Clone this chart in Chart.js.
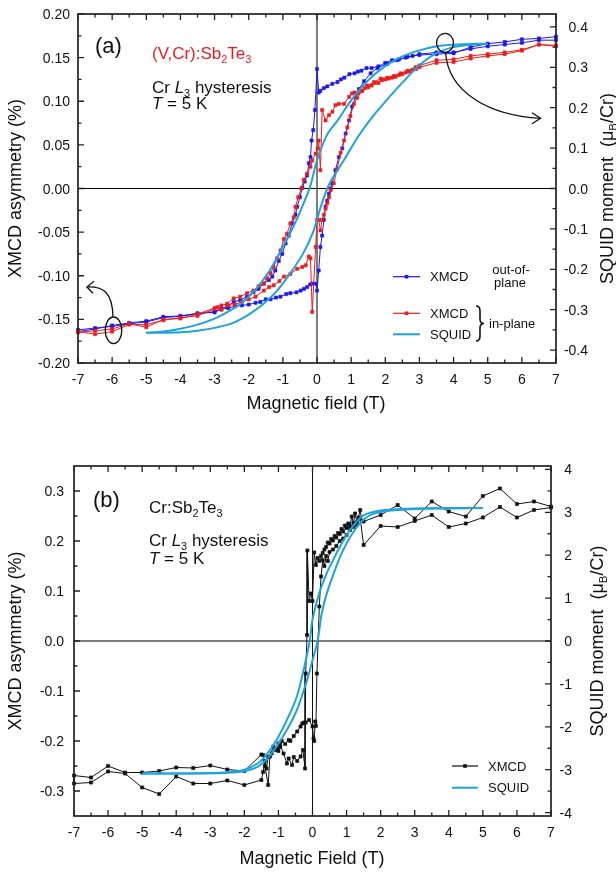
<!DOCTYPE html>
<html>
<head>
<meta charset="utf-8">
<title>Cr L3 XMCD hysteresis</title>
<script src="https://cdn.jsdelivr.net/npm/chart.js@4.4.0/dist/chart.umd.min.js"></script>
<style>
  html, body { margin: 0; padding: 0; background: #fff; }
  .panel { position: absolute; left: 0; width: 616px; height: 437px; }
  #panelA { top: 0; }
  #panelB { top: 437px; }
</style>
</head>
<body>
<div class="panel" id="panelA"><canvas id="chartA" width="616" height="437"></canvas></div>
<div class="panel" id="panelB"><canvas id="chartB" width="616" height="437"></canvas></div>
<script>
// ---- tick labels ----
const fieldTicks = [-7, -6, -5, -4, -3, -2, -1, 0, 1, 2, 3, 4, 5, 6, 7];
const asymTicksA = [-0.20, -0.15, -0.10, -0.05, 0.00, 0.05, 0.10, 0.15, 0.20];
const momentTicksA = [-0.4, -0.3, -0.2, -0.1, 0.0, 0.1, 0.2, 0.3, 0.4];
const asymTicksB = [-0.3, -0.2, -0.1, 0.0, 0.1, 0.2, 0.3];
const momentTicksB = [-4, -3, -2, -1, 0, 1, 2, 3, 4];

// ---- (a) (V,Cr):Sb2Te3, XMCD out-of-plane (field sweep down, then up) ----
const fieldOop = [7, 6.5, 6, 5.5, 5, 4.5, 4, 3.5, 3,
  2.8, 2.6, 2.4, 2.2, 2.0, 1.8, 1.6, 1.45, 1.3, 1.2, 1.1, 0.95, 0.8, 0.7, 0.6, 0.45, 0.3, 0.2, 0.1, 0.05,
  0.0,
  -0.06, -0.11, -0.16, -0.19, -0.24, -0.29, -0.36, -0.43, -0.5, -0.58,
  -0.63, -0.73, -0.83, -0.92, -1.02, -1.12, -1.22, -1.31, -1.41, -1.56,
  -1.71, -1.86, -2.05, -2.25, -2.44, -2.63, -2.8, -3,
  -3.5, -4, -4.5, -5, -5.5, -6, -6.5, -7,
  -7, -6.5, -6, -5.5, -5, -4.5, -4, -3.5, -3,
  -2.8, -2.6, -2.4, -2.2, -2.0, -1.8, -1.66, -1.5, -1.36, -1.2,
  -1.07, -0.9, -0.78, -0.6, -0.48, -0.38, -0.29, -0.2, -0.14, -0.04,
  0.0,
  0.05, 0.1, 0.15, 0.2, 0.25, 0.3, 0.35, 0.4, 0.44,
  0.54, 0.64, 0.74, 0.84, 0.94, 1.03, 1.13, 1.23, 1.38, 1.57,
  1.77, 2.06, 2.35, 2.65, 3.0, 3.5, 4, 4.5, 5, 5.5,
  6, 6.5, 7];
const xmcdOop = [0.170, 0.170, 0.167, 0.165, 0.163, 0.160, 0.156, 0.156, 0.154,
  0.152, 0.150, 0.148, 0.147, 0.144, 0.140, 0.138, 0.138, 0.135, 0.134, 0.132, 0.131, 0.127, 0.125, 0.122, 0.120, 0.117, 0.115, 0.112, 0.110,
  0.137,
  0.090, 0.067, 0.055, 0.036, 0.029, 0.015, 0.008, 0.001, -0.010, -0.021,
  -0.030, -0.040, -0.054, -0.063, -0.075, -0.083, -0.094, -0.101, -0.105, -0.109,
  -0.115, -0.119, -0.124, -0.128, -0.130, -0.135, -0.138, -0.141,
  -0.1435, -0.1465, -0.148, -0.153, -0.155, -0.158, -0.160, -0.162,
  -0.164, -0.161, -0.157, -0.154, -0.152, -0.147, -0.146, -0.143, -0.142,
  -0.138, -0.137, -0.135, -0.134, -0.133, -0.131, -0.130, -0.127, -0.127, -0.125,
  -0.124, -0.121, -0.120, -0.119, -0.117, -0.115, -0.113, -0.110, -0.109, -0.109,
  -0.117,
  -0.094, -0.067, -0.054, -0.036, -0.021, -0.014, -0.006, 0.000, 0.006,
  0.021, 0.036, 0.046, 0.063, 0.078, 0.094, 0.105, 0.114, 0.123, 0.132,
  0.138, 0.143, 0.147, 0.151, 0.153, 0.154, 0.155, 0.162, 0.166, 0.168,
  0.171, 0.172, 0.174];

// ---- (a) XMCD in-plane ----
const fieldIp = [7, 6.5, 6, 5.5, 5, 4.5, 4, 3.5, 3,
  2.9, 2.8, 2.7, 2.6, 2.5, 2.4, 2.3, 2.2, 2.1, 2.0,
  1.9, 1.8, 1.7, 1.6, 1.5, 1.4, 1.3, 1.2, 1.1, 1.03,
  0.94, 0.79, 0.64, 0.54, 0.45, 0.35, 0.25, 0.15, 0.1, 0.05,
  0.02, -0.04, -0.14, -0.19, -0.29, -0.39, -0.46, -0.55, -0.63, -0.68,
  -0.78, -0.88, -0.97, -1.07, -1.17, -1.27, -1.36, -1.46, -1.56, -1.71,
  -1.86, -2.05, -2.25, -2.44, -2.63, -2.8, -2.92,
  -3, -3.5, -4, -4.5, -5, -5.5, -6, -6.5, -7,
  -7, -6.5, -6, -5.5, -5, -4.5, -4, -3.5, -3,
  -2.8, -2.6, -2.4, -2.2, -2.0, -1.8, -1.56, -1.4, -1.27, -1.1,
  -0.97, -0.78, -0.58, -0.43, -0.33, -0.24, -0.19, -0.14, -0.04, 0.0,
  0.05, 0.1, 0.15, 0.2, 0.25, 0.3, 0.35, 0.4, 0.49, 0.59,
  0.69, 0.79, 0.89, 0.98, 1.08, 1.18, 1.33, 1.47, 1.67, 1.87,
  2.06, 2.25, 2.45, 2.65, 2.89, 3.0, 3.5, 4, 4.5, 5,
  5.5, 6, 6.5, 7];
const xmcdIp = [0.163, 0.165, 0.158, 0.154, 0.152, 0.149, 0.145, 0.144, 0.139,
  0.137, 0.136, 0.134, 0.133, 0.131, 0.130, 0.128, 0.127, 0.126, 0.125,
  0.124, 0.121, 0.121, 0.118, 0.116, 0.115, 0.112, 0.109, 0.110, 0.109,
  0.105, 0.097, 0.097, 0.0955, 0.088, 0.084, 0.078, 0.090, 0.021, 0.055,
  0.046, 0.040, 0.032, 0.025, 0.017, 0.010, 0.000, -0.010, -0.021, -0.033,
  -0.040, -0.052, -0.058, -0.071, -0.080, -0.090, -0.097, -0.103, -0.109, -0.112,
  -0.117, -0.120, -0.124, -0.126, -0.132, -0.134, -0.136,
  -0.138, -0.146, -0.148, -0.151, -0.156, -0.156, -0.164, -0.167, -0.164,
  -0.165, -0.163, -0.161, -0.155, -0.159, -0.150, -0.149, -0.144, -0.137,
  -0.139, -0.134, -0.133, -0.130, -0.127, -0.124, -0.117, -0.113, -0.111, -0.106,
  -0.101, -0.098, -0.092, -0.090, -0.088, -0.078, -0.080, -0.1415, -0.067, -0.036,
  -0.036, -0.048, -0.036, -0.030, -0.023, -0.017, -0.010, -0.002, 0.006, 0.022,
  0.041, 0.055, 0.070, 0.083, 0.097, 0.104, 0.112, 0.118, 0.122, 0.126,
  0.127, 0.129, 0.132, 0.135, 0.139, 0.141, 0.147, 0.148, 0.152, 0.154,
  0.156, 0.159, 0.165, 0.164];

// ---- (a) SQUID in-plane, muB/Cr ----
const squidDownFieldA = [5, 4.5, 4, 3.5, 3, 2.5, 2, 1.5, 1.0, 0.6, 0.3, 0.0, -0.2, -0.4, -0.6, -1.0, -1.4, -1.8, -2.2, -2.6, -3, -3.5, -4, -4.5, -5];
const squidDownA = [0.358, 0.358, 0.356, 0.352, 0.342, 0.327, 0.303, 0.268, 0.218, 0.168, 0.134, 0.070, 0.005, -0.038, -0.078, -0.145, -0.205, -0.250, -0.283, -0.305, -0.322, -0.337, -0.347, -0.354, -0.357];
const squidUpFieldA = [-5, -4.5, -4, -3.5, -3, -2.5, -2, -1.6, -1.2, -0.8, -0.4, -0.1, 0.1, 0.3, 0.5, 0.8, 1.2, 1.6, 2, 2.5, 3, 3.5, 4, 4.5, 5];
const squidUpA = [-0.357, -0.357, -0.356, -0.352, -0.345, -0.334, -0.312, -0.288, -0.256, -0.212, -0.160, -0.105, -0.048, 0.0, 0.032, 0.072, 0.128, 0.175, 0.215, 0.262, 0.305, 0.335, 0.350, 0.356, 0.358];

// ---- (b) Cr:Sb2Te3, XMCD ----
const fieldCr = [7, 6.5, 6, 5.5, 5, 4.5, 4, 3.5, 3, 2.5, 2,
  1.5, 1.45, 1.4, 1.35, 1.3, 1.25, 1.2, 1.15, 1.1, 1.05,
  1.0, 0.95, 0.9, 0.85, 0.8, 0.75, 0.7, 0.65, 0.6, 0.55,
  0.5, 0.45, 0.4, 0.35, 0.3, 0.25, 0.2, 0.15, 0.1, 0.05,
  0.0, -0.05, -0.1, -0.15, -0.16, -0.2, -0.22, -0.28, -0.35, -0.45,
  -0.55, -0.6, -0.7, -0.75, -0.85, -0.95, -1.0, -1.05, -1.15, -1.25,
  -1.3, -1.4, -1.45, -1.5, -2, -2.5, -3, -3.5, -4, -4.5,
  -5, -5.5, -6, -6.5, -7,
  -7, -6.5, -6, -5.5, -5, -4.5, -4, -3.5, -3, -2.5, -2,
  -1.5, -1.45, -1.4, -1.35, -1.3, -1.2, -1.1, -1.0, -0.95, -0.9,
  -0.8, -0.7, -0.65, -0.55, -0.45, -0.35, -0.3, -0.25, -0.2, -0.1,
  0.0, 0.03, 0.05, 0.08, 0.1, 0.13, 0.2, 0.25, 0.3, 0.35,
  0.4, 0.45, 0.5, 0.6, 0.7, 0.8, 0.9, 1.0, 1.1, 1.2,
  1.3, 1.4, 1.5, 2, 2.5, 3, 3.5, 4, 4.5, 5,
  5.5, 6, 6.5, 7];
const xmcdCr = [0.269, 0.279, 0.274, 0.305, 0.290, 0.249, 0.259, 0.279, 0.245, 0.272, 0.252,
  0.239, 0.240, 0.262, 0.247, 0.238, 0.255, 0.236, 0.249, 0.229, 0.235,
  0.226, 0.231, 0.219, 0.224, 0.214, 0.216, 0.207, 0.210, 0.201, 0.204,
  0.195, 0.197, 0.188, 0.183, 0.176, 0.170, 0.160, 0.166, 0.152, 0.177,
  0.080, 0.095, 0.080, 0.181, 0.012, -0.065, -0.255, -0.218, -0.231, -0.240,
  -0.232, -0.248, -0.235, -0.245, -0.225, -0.208, -0.220, -0.215, -0.211, -0.231,
  -0.288, -0.250, -0.228, -0.227, -0.260, -0.257, -0.249, -0.254, -0.253, -0.260,
  -0.263, -0.263, -0.250, -0.273, -0.269,
  -0.285, -0.283, -0.261, -0.265, -0.293, -0.306, -0.271, -0.285, -0.285, -0.279, -0.288,
  -0.278, -0.262, -0.240, -0.255, -0.232, -0.225, -0.218, -0.205, -0.212, -0.200,
  -0.206, -0.198, -0.200, -0.190, -0.181, -0.171, -0.165, -0.163, -0.163, -0.158,
  -0.171, -0.195, -0.200, -0.161, -0.170, -0.065, 0.069, 0.129, 0.162, 0.150,
  0.170, 0.160, 0.178, 0.183, 0.190, 0.200, 0.205, 0.212, 0.222, 0.228,
  0.232, 0.245, 0.192, 0.230, 0.228, 0.240, 0.252, 0.228, 0.235, 0.247,
  0.268, 0.247, 0.262, 0.267];

// ---- (b) SQUID, muB/Cr ----
const squidDownFieldB = [5, 4, 3, 2.5, 2, 1.5, 1.25, 1.0, 0.8, 0.6, 0.4, 0.2, 0.0, -0.08, -0.26, -0.46, -0.75, -1.05, -1.35, -1.6, -2, -2.5, -3, -4, -5];
const squidDownB = [3.10, 3.10, 3.09, 3.07, 3.04, 2.93, 2.74, 2.47, 2.19, 1.88, 1.55, 1.12, 0.50, 0.0, -0.67, -1.30, -1.84, -2.30, -2.65, -2.85, -3.0, -3.06, -3.08, -3.09, -3.09];
const squidUpFieldB = [-5, -4, -3, -2.5, -2, -1.6, -1.3, -1.05, -0.75, -0.46, -0.16, 0.0, 0.15, 0.27, 0.42, 0.62, 0.81, 1.01, 1.25, 1.5, 1.8, 2.3, 3, 4, 5];
const squidUpB = [-3.09, -3.09, -3.085, -3.07, -3.04, -2.93, -2.72, -2.45, -2.07, -1.61, -0.91, -0.45, 0.0, 0.64, 1.11, 1.57, 1.96, 2.29, 2.60, 2.83, 2.97, 3.04, 3.08, 3.09, 3.10];

// ---- styling ----
const FONT = '"Liberation Sans", Arial, Helvetica, sans-serif';
const BLUE = '#1a1aee';
const RED = '#ee1c1c';
const CYAN = '#1ea3dc';
const INK = '#111';
const MAJOR = 6, MINOR = 3.5;

Chart.defaults.font.family = FONT;

const pts = (xs, ys) => xs.map((x, i) => ({ x, y: ys[i] }));
const font = (size, italic) => (italic ? 'italic ' : '') + size + 'px ' + FONT;

// text made of runs: plain strings, or [text, flags] with 'i' italic, 's' subscript
function drawRich(ctx, parts, x, y, size, align) {
  const runs = parts.map(p => {
    const t = typeof p === 'string' ? p : p[0];
    const f = typeof p === 'string' ? '' : p[1];
    const sub = f.includes('s');
    const sz = sub ? size * 0.64 : size;
    ctx.font = font(sz, f.includes('i'));
    return { t, sz, it: f.includes('i'), sub, w: ctx.measureText(t).width };
  });
  const total = runs.reduce((s, r) => s + r.w, 0);
  let cx = align === 'center' ? x - total / 2 : align === 'right' ? x - total : x;
  const base = y + size * 0.36;
  ctx.textAlign = 'left';
  ctx.textBaseline = 'alphabetic';
  runs.forEach(r => {
    ctx.font = font(r.sz, r.it);
    ctx.fillText(r.t, cx, base + (r.sub ? size * 0.22 : 0));
    cx += r.w;
  });
}

function vertText(ctx, parts, x, y, size) {
  ctx.save();
  ctx.translate(x, y);
  ctx.rotate(-Math.PI / 2);
  drawRich(ctx, parts, 0, 0, size, 'center');
  ctx.restore();
}

const mids = vals => vals.slice(1).map((v, i) => (v + vals[i]) / 2);

function lineDataset(label, data, color, axis) {
  return {
    label, data, yAxisID: axis, showLine: true,
    borderColor: color, backgroundColor: color, borderWidth: 1,
    pointStyle: 'rect', pointRadius: 2.2, pointBorderWidth: 0.6,
    pointHoverRadius: 2.2, clip: 4
  };
}

function squidDataset(label, data) {
  return {
    label, data, yAxisID: 'y2', showLine: true,
    borderColor: CYAN, borderWidth: 2, pointRadius: 0, tension: 0.3, clip: 4
  };
}

// frame, inward ticks, tick labels and axis titles
function drawFrame(chart, cfg) {
  const { ctx, chartArea: a, scales } = chart;
  const { x, y, y2 } = scales;
  ctx.save();
  ctx.strokeStyle = '#222';
  ctx.lineWidth = 1.7;
  ctx.strokeRect(a.left, a.top, a.right - a.left, a.bottom - a.top);

  ctx.lineWidth = 1.3;
  ctx.beginPath();
  const xTick = (v, len) => {
    const p = x.getPixelForValue(v);
    ctx.moveTo(p, a.bottom); ctx.lineTo(p, a.bottom - len);
    ctx.moveTo(p, a.top); ctx.lineTo(p, a.top + len);
  };
  const yTick = (v, len) => {
    const p = y.getPixelForValue(v);
    ctx.moveTo(a.left, p); ctx.lineTo(a.left + len, p);
  };
  const y2Tick = (v, len) => {
    const p = y2.getPixelForValue(v);
    ctx.moveTo(a.right, p); ctx.lineTo(a.right - len, p);
  };
  cfg.xTicks.forEach(v => xTick(v, MAJOR));
  mids(cfg.xTicks).forEach(v => xTick(v, MINOR));
  cfg.yTicks.forEach(v => yTick(v, MAJOR));
  mids(cfg.yTicks).forEach(v => yTick(v, MINOR));
  cfg.y2Ticks.forEach(v => y2Tick(v, MAJOR));
  mids(cfg.y2Ticks).forEach(v => y2Tick(v, MINOR));
  ctx.stroke();

  ctx.fillStyle = INK;
  cfg.xTicks.forEach(v => drawRich(ctx, [String(v)], x.getPixelForValue(v), cfg.xLabelY, 14, 'center'));
  cfg.yTicks.forEach(v => drawRich(ctx, [cfg.yFmt(v)], cfg.yLabelX, y.getPixelForValue(v), 14, 'right'));
  cfg.y2Ticks.forEach(v => drawRich(ctx, [cfg.y2Fmt(v)], cfg.y2LabelX, y2.getPixelForValue(v), 14, 'right'));

  const midY = (a.top + a.bottom) / 2;
  drawRich(ctx, [cfg.xTitle], cfg.xTitleX, cfg.xTitleY, 18, 'center');
  vertText(ctx, ['XMCD asymmetry (%)'], cfg.yTitleX, midY, 18);
  vertText(ctx, ['SQUID moment  (\u03bc', ['B', 's'], '/Cr)'], cfg.y2TitleX, midY, 18);
  ctx.restore();
}

function framePlugin(cfg) {
  return {
    id: 'frame',
    beforeDatasetsDraw(chart) {
      const { ctx, chartArea: a, scales } = chart;
      const x0 = scales.x.getPixelForValue(0);
      const y0 = scales.y.getPixelForValue(0);
      ctx.save();
      ctx.strokeStyle = '#000';
      ctx.lineWidth = 1;
      ctx.beginPath();
      ctx.moveTo(a.left, y0); ctx.lineTo(a.right, y0);
      ctx.stroke();
      ctx.strokeStyle = cfg.zeroXColor;
      ctx.lineWidth = cfg.zeroXWidth;
      ctx.beginPath();
      ctx.moveTo(x0, a.top); ctx.lineTo(x0, a.bottom);
      ctx.stroke();
      ctx.restore();
    },
    afterDraw(chart) {
      drawFrame(chart, cfg);
      cfg.decorate(chart);
    }
  };
}

function legendLine(ctx, x1, x2, y, color, width, marker) {
  ctx.strokeStyle = color;
  ctx.lineWidth = width;
  ctx.beginPath(); ctx.moveTo(x1, y); ctx.lineTo(x2, y); ctx.stroke();
  if (marker) {
    ctx.fillStyle = color;
    ctx.fillRect((x1 + x2) / 2 - 1.8, y - 1.8, 3.6, 3.6);
  }
}

function decoratePanelA(chart) {
  const { ctx, scales: { x, y } } = chart;
  ctx.save();
  ctx.fillStyle = INK;
  drawRich(ctx, ['(a)'], 95, 45, 22, 'left');
  ctx.fillStyle = RED;
  drawRich(ctx, ['(V,Cr):Sb', ['2', 's'], 'Te', ['3', 's']], 152, 53, 17, 'left');
  ctx.fillStyle = INK;
  drawRich(ctx, ['Cr ', ['L', 'i'], ['3', 's'], ' hysteresis'], 152, 87, 17, 'left');
  drawRich(ctx, [['T', 'i'], ' = 5 K'], 152, 103, 17, 'left');

  // legend
  legendLine(ctx, 393, 420, 276.7, BLUE, 1.2, true);
  legendLine(ctx, 393, 420, 313.3, RED, 1.2, true);
  legendLine(ctx, 393, 420, 334.3, CYAN, 2, false);
  ctx.fillStyle = INK;
  drawRich(ctx, ['XMCD'], 430, 276.7, 13, 'left');
  drawRich(ctx, ['XMCD'], 430, 313.3, 13, 'left');
  drawRich(ctx, ['SQUID'], 430, 334.3, 13, 'left');
  drawRich(ctx, ['out-of-'], 511, 269.5, 13, 'center');
  drawRich(ctx, ['plane'], 510, 282.5, 13, 'center');
  drawRich(ctx, ['in-plane'], 489, 323.5, 13, 'left');
  ctx.strokeStyle = INK;
  ctx.lineWidth = 1.6;
  ctx.beginPath();
  ctx.moveTo(476, 306);
  ctx.quadraticCurveTo(480, 306, 480, 311);
  ctx.lineTo(480, 319);
  ctx.quadraticCurveTo(480, 323.5, 484, 323.5);
  ctx.quadraticCurveTo(480, 323.5, 480, 328);
  ctx.lineTo(480, 336);
  ctx.quadraticCurveTo(480, 341, 476, 341);
  ctx.stroke();

  // ellipses with arrows pointing to the axis each curve belongs to
  ctx.lineWidth = 1.3;
  const ex = x.getPixelForValue(3.75), ey = y.getPixelForValue(0.167);
  ctx.beginPath(); ctx.ellipse(ex, ey, 8.5, 9.5, 0, 0, 2 * Math.PI); ctx.stroke();
  ctx.beginPath();
  ctx.moveTo(ex + 0.5, ey + 9.5);
  ctx.bezierCurveTo(ex + 3, ey + 50, ex + 45, ey + 73, ex + 95.5, ey + 75.5);
  ctx.stroke();
  ctx.beginPath();
  ctx.moveTo(ex + 87, ey + 70); ctx.lineTo(ex + 95.5, ey + 75.5); ctx.lineTo(ex + 87, ey + 81);
  ctx.stroke();

  const lx = x.getPixelForValue(-5.96), ly = y.getPixelForValue(-0.1625);
  ctx.beginPath(); ctx.ellipse(lx, ly, 8.3, 13.3, 0, 0, 2 * Math.PI); ctx.stroke();
  ctx.beginPath();
  ctx.moveTo(lx - 0.5, ly - 13.3);
  ctx.bezierCurveTo(lx - 1, ly - 38, lx - 10, ly - 44, lx - 26.6, ly - 43.3);
  ctx.stroke();
  ctx.beginPath();
  ctx.moveTo(lx - 19.5, ly - 49); ctx.lineTo(lx - 26.6, ly - 43.3); ctx.lineTo(lx - 20.5, ly - 37);
  ctx.stroke();
  ctx.restore();
}

function decoratePanelB(chart) {
  const { ctx } = chart;
  ctx.save();
  ctx.fillStyle = INK;
  drawRich(ctx, ['(b)'], 93, 62, 22, 'left');
  drawRich(ctx, ['Cr:Sb', ['2', 's'], 'Te', ['3', 's']], 149, 70, 17, 'left');
  drawRich(ctx, ['Cr ', ['L', 'i'], ['3', 's'], ' hysteresis'], 149, 103, 17, 'left');
  drawRich(ctx, [['T', 'i'], ' = 5 K'], 149, 121, 17, 'left');

  legendLine(ctx, 452, 478, 329, INK, 1.2, true);
  legendLine(ctx, 452, 478, 350.7, CYAN, 2, false);
  ctx.fillStyle = INK;
  drawRich(ctx, ['XMCD'], 488, 329, 13, 'left');
  drawRich(ctx, ['SQUID'], 488, 350.7, 13, 'left');
  ctx.restore();
}

function baseOptions(padTop, leftW, rightW, bottomH, yMin, yMax, y2Min, y2Max) {
  const hidden = { grid: { display: false }, border: { display: false }, ticks: { display: false } };
  return {
    responsive: false,
    animation: false,
    devicePixelRatio: 1,
    layout: { padding: { top: padTop, left: 0, right: 0, bottom: 0 }, autoPadding: false },
    plugins: { legend: { display: false }, tooltip: { enabled: false } },
    scales: {
      x: { type: 'linear', position: 'bottom', min: -7, max: 7, ...hidden, afterFit: s => { s.height = bottomH; } },
      y: { type: 'linear', position: 'left', min: yMin, max: yMax, ...hidden, afterFit: s => { s.width = leftW; } },
      y2: { type: 'linear', position: 'right', min: y2Min, max: y2Max, ...hidden, afterFit: s => { s.width = rightW; } }
    }
  };
}

// ---- panel (a) ----
new Chart(document.getElementById('chartA'), {
  type: 'scatter',
  data: {
    datasets: [
      squidDataset('SQUID', pts(squidDownFieldA, squidDownA)),
      squidDataset('SQUID up', pts(squidUpFieldA, squidUpA)),
      lineDataset('XMCD in-plane', pts(fieldIp, xmcdIp), RED, 'y'),
      lineDataset('XMCD out-of-plane', pts(fieldOop, xmcdOop), BLUE, 'y')
    ]
  },
  options: baseOptions(14, 78, 60, 74, -0.2, 0.2, -0.432, 0.432),
  plugins: [framePlugin({
    xTicks: fieldTicks, yTicks: asymTicksA, y2Ticks: momentTicksA,
    yFmt: v => v.toFixed(2), y2Fmt: v => v.toFixed(1),
    xLabelY: 379, yLabelX: 70, y2LabelX: 588,
    xTitle: 'Magnetic field (T)', xTitleX: 316, xTitleY: 403,
    yTitleX: 15, y2TitleX: 607,
    zeroXColor: '#555', zeroXWidth: 1.5,
    decorate: decoratePanelA
  })]
});

// ---- panel (b) ----
new Chart(document.getElementById('chartB'), {
  type: 'scatter',
  data: {
    datasets: [
      squidDataset('SQUID', pts(squidDownFieldB, squidDownB)),
      squidDataset('SQUID up', pts(squidUpFieldB, squidUpB)),
      lineDataset('XMCD', pts(fieldCr, xmcdCr), INK, 'y')
    ]
  },
  options: baseOptions(29, 74, 65, 58, -0.35, 0.35, -4.08, 4.08),
  plugins: [framePlugin({
    xTicks: fieldTicks, yTicks: asymTicksB, y2Ticks: momentTicksB,
    yFmt: v => v.toFixed(1), y2Fmt: v => String(v),
    xLabelY: 394.7, yLabelX: 64, y2LabelX: 572,
    xTitle: 'Magnetic Field (T)', xTitleX: 312, xTitleY: 421,
    yTitleX: 15, y2TitleX: 597,
    zeroXColor: '#111', zeroXWidth: 1,
    decorate: decoratePanelB
  })]
});
</script>
</body>
</html>
